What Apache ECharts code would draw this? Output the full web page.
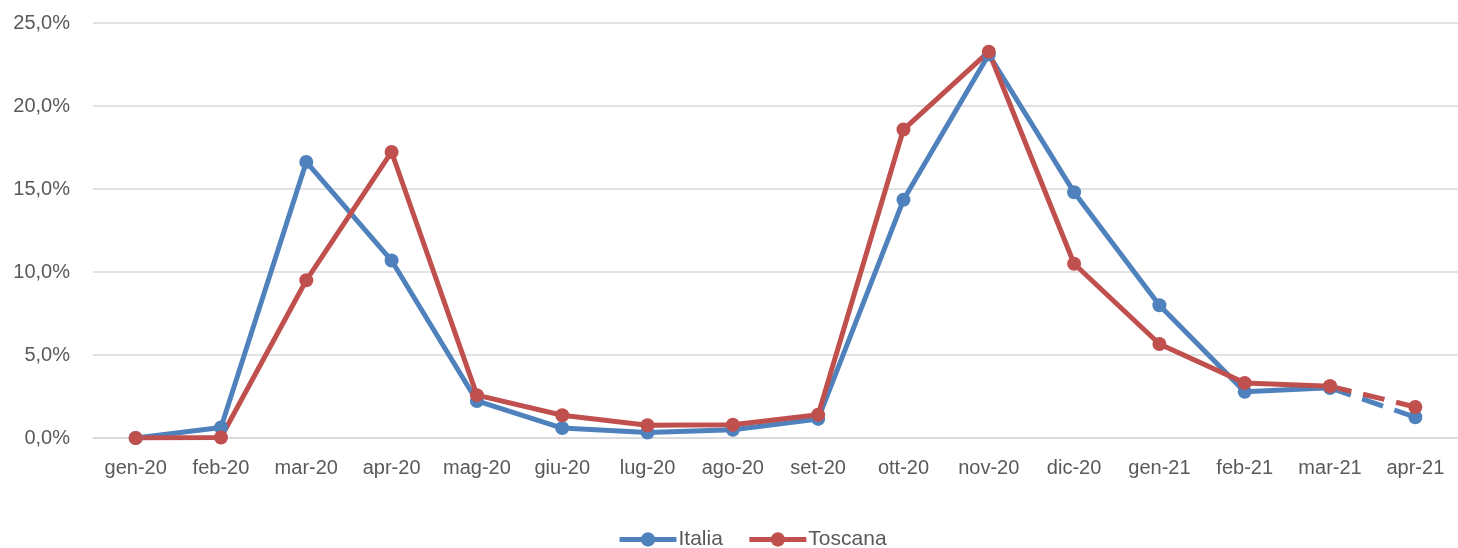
<!DOCTYPE html>
<html>
<head>
<meta charset="utf-8">
<script src="https://cdn.jsdelivr.net/npm/echarts@6/dist/echarts.min.js"></script>
<style type="text/css">
html, body { margin: 0; padding: 0; background: #fff; }
#chart { width: 1458px; height: 548px; }
</style>
</head>
<body>
<div id="chart"></div>
<script type="text/javascript">
var months = ['gen-20', 'feb-20', 'mar-20', 'apr-20', 'mag-20', 'giu-20', 'lug-20', 'ago-20',
              'set-20', 'ott-20', 'nov-20', 'dic-20', 'gen-21', 'feb-21', 'mar-21', 'apr-21'];
var italia = [0, 0.63, 16.63, 10.69, 2.23, 0.6, 0.33, 0.5, 1.15, 14.35, 23.1, 14.8, 8.0, 2.78, 3.02, 1.25];
var toscana = [0, 0.03, 9.5, 17.23, 2.58, 1.37, 0.77, 0.8, 1.4, 18.58, 23.27, 10.5, 5.66, 3.32, 3.12, 1.87];
// ultimi due punti: tratto tratteggiato
var lastSolid = 14;

var blu = '#4F81BD', rosso = '#C0504D';

function solidPart(arr) {
    return arr.map(function (v, i) { return i <= lastSolid ? v : null; });
}
function dashPart(arr) {
    return arr.map(function (v, i) { return i >= lastSolid ? v : null; });
}
function serie(name, color, data, dashed) {
    return {
        name: name,
        type: 'line',
        data: data,
        symbol: 'circle',
        symbolSize: 14,
        showSymbol: true,
        connectNulls: false,
        itemStyle: { color: color },
        lineStyle: { color: color, width: 5, type: dashed ? [22, 12] : 'solid' },
        emphasis: { disabled: true },
        animation: false
    };
}

var chart = echarts.init(document.getElementById('chart'));
var option = {
    backgroundColor: '#fff',
    textStyle: { fontFamily: 'Liberation Sans', color: '#595959' },
    grid: { left: 93, right: -8, top: 23, bottom: 110 },
    legend: {
        top: 524,
        left: 612,
        data: ['Italia', 'Toscana'],
        itemWidth: 57,
        itemHeight: 18,
        itemGap: 24,
        lineStyle: { width: 5 },
        textStyle: { fontSize: 21, color: '#595959', padding: [0, 0, 0, -3] }
    },
    xAxis: {
        type: 'category',
        data: months,
        boundaryGap: true,
        axisLine: { lineStyle: { color: '#D9D9D9', width: 1.5 } },
        axisTick: { show: false },
        axisLabel: { fontSize: 20, color: '#595959', margin: 20, interval: 0 }
    },
    yAxis: {
        type: 'value',
        min: 0,
        max: 25,
        interval: 5,
        axisLine: { show: false },
        axisTick: { show: false },
        splitLine: { lineStyle: { color: '#D9D9D9', width: 1.5 } },
        axisLabel: {
            fontSize: 20,
            color: '#595959',
            margin: 23,
            formatter: function (v) { return v.toFixed(1).replace('.', ',') + '%'; }
        }
    },
    series: [
        serie('Italia', blu, solidPart(italia), false),
        serie('Toscana', rosso, solidPart(toscana), false),
        serie('Italia', blu, dashPart(italia), true),
        serie('Toscana', rosso, dashPart(toscana), true)
    ]
};
chart.setOption(option);
</script>
</body>
</html>
